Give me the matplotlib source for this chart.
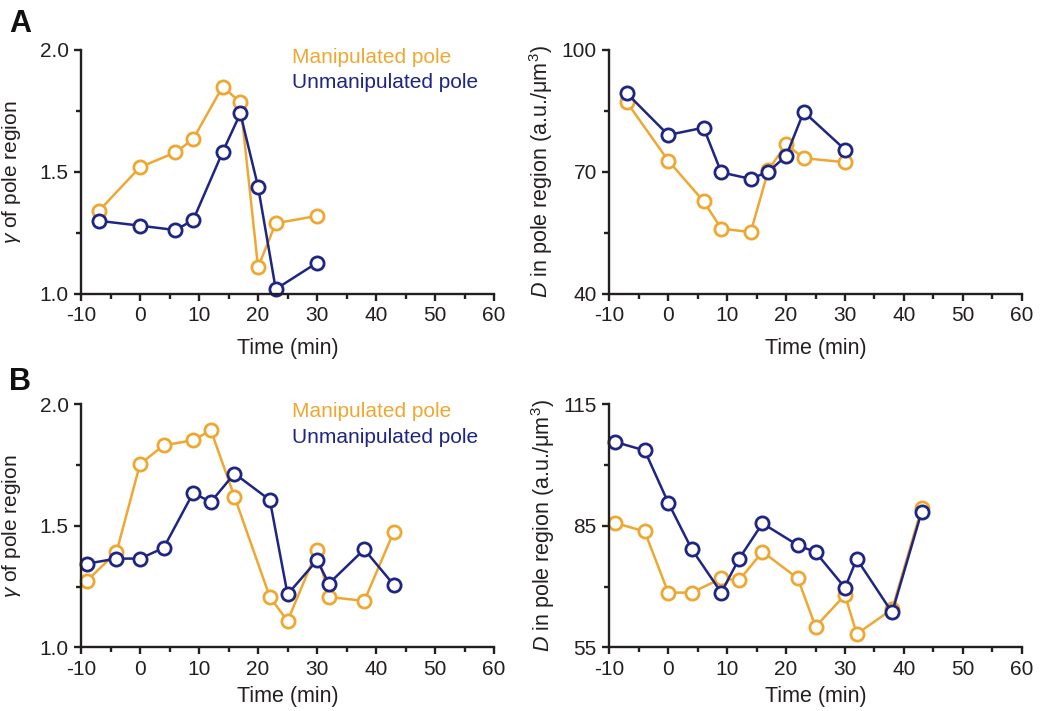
import matplotlib
matplotlib.use("Agg")
import matplotlib.pyplot as plt
from matplotlib.ticker import MultipleLocator

plt.rcParams.update({
    'font.family': 'Liberation Sans',
    'font.size': 15,
    'mathtext.fontset': 'custom',
    'mathtext.rm': 'Liberation Sans',
    'mathtext.it': 'Liberation Sans:italic',
    'axes.unicode_minus': False,
    'text.color': '#231f20',
    'axes.labelcolor': '#231f20',
    'xtick.color': '#231f20',
    'ytick.color': '#231f20',
})

ORANGE = '#eea832'
BLUE = '#1e2582'

# ---- panel A ----
a_gamma_t_manip = [-7, 0, 6, 9, 14, 17, 20, 23, 30]
a_gamma_manip = [1.34, 1.52, 1.58, 1.635, 1.85, 1.785, 1.11, 1.29, 1.32]
a_gamma_t_unmanip = [-7, 0, 6, 9, 14, 17, 20, 23, 30]
a_gamma_unmanip = [1.30, 1.28, 1.262, 1.303, 1.582, 1.74, 1.44, 1.02, 1.128]

a_d_t_manip = [-7, 0, 6, 9, 14, 17, 20, 23, 30]
a_d_manip = [87.1, 72.8, 62.8, 56.1, 55.2, 70.5, 76.8, 73.4, 72.4]
a_d_t_unmanip = [-7, 0, 6, 9, 14, 17, 20, 23, 30]
a_d_unmanip = [89.3, 79.1, 80.9, 69.9, 68.3, 70.1, 73.9, 84.8, 75.5]

# ---- panel B ----
b_t = [-9, -4, 0, 4, 9, 12, 16, 22, 25, 30, 32, 38, 43]
b_gamma_manip = [1.274, 1.391, 1.754, 1.831, 1.852, 1.893, 1.62, 1.207,
                 1.108, 1.399, 1.207, 1.191, 1.475]
b_gamma_unmanip = [1.344, 1.365, 1.365, 1.409, 1.635, 1.598, 1.715, 1.606,
                   1.218, 1.358, 1.262, 1.403, 1.257]
b_d_manip = [85.7, 83.6, 68.5, 68.5, 72.0, 71.5, 78.6, 72.0, 60.1, 67.9,
             58.3, 64.4, 89.3]
b_d_unmanip = [105.7, 103.6, 90.7, 79.2, 68.5, 76.8, 85.6, 80.2, 78.5, 69.7,
               76.8, 63.6, 88.4]

gamma_label = r'$\gamma$ of pole region'
d_label = r'$\mathit{D}$ in pole region (a.u./μm$^3$)'


def style_axis(ax, ylim, ystep, labelpad_x):
    lo, hi = ylim
    ax.set_xlim(-10, 60)
    ax.set_ylim(lo, hi)
    ax.xaxis.set_major_locator(MultipleLocator(10))
    ax.xaxis.set_minor_locator(MultipleLocator(5))
    ax.set_yticks([lo, lo + ystep, hi])
    ax.set_yticks([lo + ystep / 2, lo + 1.5 * ystep], minor=True)
    for side in ['top', 'right']:
        ax.spines[side].set_visible(False)
    for side in ['left', 'bottom']:
        ax.spines[side].set_linewidth(1.7)
        ax.spines[side].set_color('#231f20')
    ax.tick_params(which='major', direction='out', length=5, width=1.7,
                   labelsize=15, pad=4)
    ax.tick_params(which='minor', direction='out', length=3.5, width=1.7)
    ax.set_xlabel('Time (min)', fontsize=15.5, labelpad=labelpad_x)


def draw(ax, t1, y1, t2, y2):
    kw = dict(lw=1.8, marker='o', ms=9.5, mfc='white', mew=2.0, clip_on=False)
    ax.plot(t1, y1, color=ORANGE, **kw)
    ax.plot(t2, y2, color=BLUE, **kw)


fig = plt.figure(figsize=(10.43, 7.11), dpi=100)

ax1 = fig.add_axes([0.0777, 0.5865, 0.396, 0.3432])
ax2 = fig.add_axes([0.5842, 0.5865, 0.3954, 0.3432])
ax3 = fig.add_axes([0.0777, 0.0896, 0.396, 0.3418])
ax4 = fig.add_axes([0.5842, 0.0896, 0.3954, 0.3418])

draw(ax1, a_gamma_t_manip, a_gamma_manip, a_gamma_t_unmanip, a_gamma_unmanip)
style_axis(ax1, (1.0, 2.0), 0.5, 9)
ax1.yaxis.set_major_formatter(plt.FormatStrFormatter('%.1f'))
ax1.set_ylabel(gamma_label, fontsize=15, labelpad=12)

draw(ax2, a_d_t_manip, a_d_manip, a_d_t_unmanip, a_d_unmanip)
style_axis(ax2, (40, 100), 30, 9)
ax2.set_ylabel(d_label, fontsize=15.5, labelpad=5)

draw(ax3, b_t, b_gamma_manip, b_t, b_gamma_unmanip)
style_axis(ax3, (1.0, 2.0), 0.5, 5)
ax3.yaxis.set_major_formatter(plt.FormatStrFormatter('%.1f'))
ax3.set_ylabel(gamma_label, fontsize=15, labelpad=12)

draw(ax4, b_t, b_d_manip, b_t, b_d_unmanip)
style_axis(ax4, (55, 115), 30, 5)
ax4.set_ylabel(d_label, fontsize=15.5, labelpad=5)

# legends as coloured text
for ax in (ax1, ax3):
    ax.text(0.51, 0.97, 'Manipulated pole', color=ORANGE, fontsize=15,
            transform=ax.transAxes, va='center', ha='left')
    ax.text(0.51, 0.865, 'Unmanipulated pole', color=BLUE, fontsize=15,
            transform=ax.transAxes, va='center', ha='left')

fig.text(0.009, 0.955, 'A', fontsize=22, fontweight='bold', color='#111111')
fig.text(0.009, 0.452, 'B', fontsize=22, fontweight='bold', color='#111111')

fig.savefig('out.png', dpi=100)
